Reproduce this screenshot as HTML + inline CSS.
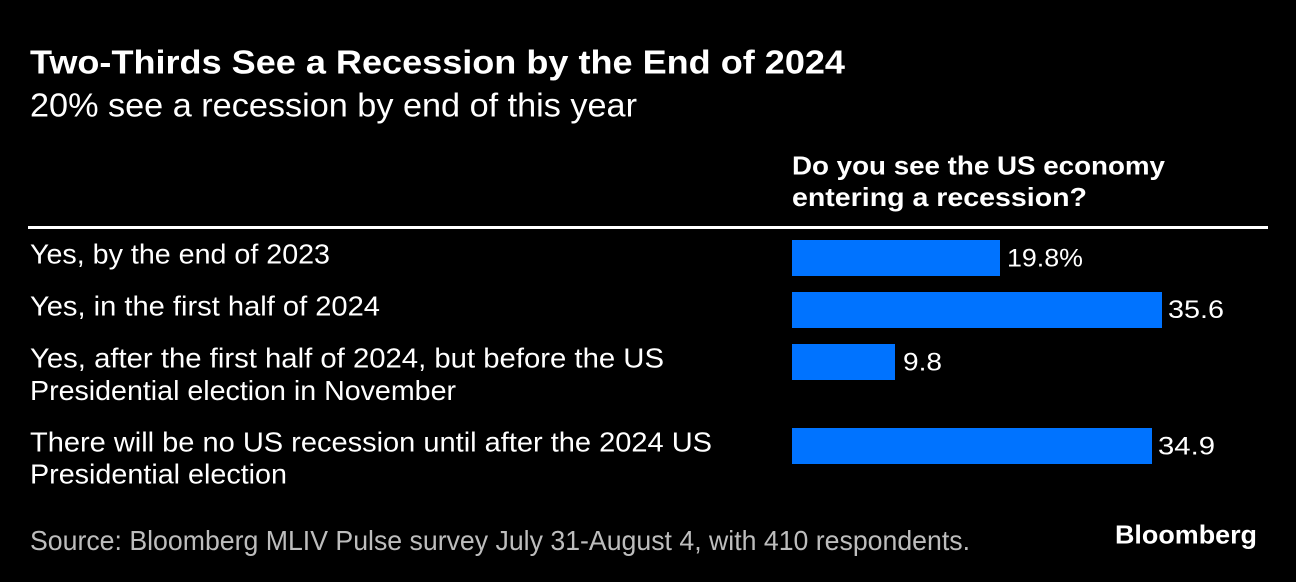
<!DOCTYPE html>
<html>
<head>
<meta charset="utf-8">
<style>
  html, body { margin: 0; padding: 0; background: #000; }
  body { width: 1296px; height: 582px; overflow: hidden; }
  svg { display: block; }
  text { font-family: "Liberation Sans", Arial, sans-serif; }
</style>
</head>
<body>
<svg width="1296" height="582" viewBox="0 0 1296 582" xmlns="http://www.w3.org/2000/svg">
  <rect x="0" y="0" width="1296" height="582" fill="#000"/>

  <!-- Title & subtitle -->
  <text x="30" y="73.5" fill="#fff" font-size="33" font-weight="bold" textLength="815" lengthAdjust="spacingAndGlyphs">Two-Thirds See a Recession by the End of 2024</text>
  <text x="30" y="116.5" fill="#fff" font-size="33" textLength="607" lengthAdjust="spacingAndGlyphs">20% see a recession by end of this year</text>

  <!-- Column header -->
  <text x="792" y="174.5" fill="#fff" font-size="26" font-weight="bold" textLength="373" lengthAdjust="spacingAndGlyphs">Do you see the US economy</text>
  <text x="792" y="206" fill="#fff" font-size="26" font-weight="bold" textLength="295" lengthAdjust="spacingAndGlyphs">entering a recession?</text>

  <!-- Rule -->
  <rect x="28" y="226" width="1240" height="3" fill="#fff"/>

  <!-- Row labels -->
  <text x="30" y="263.3" fill="#fff" font-size="28" textLength="300" lengthAdjust="spacingAndGlyphs">Yes, by the end of 2023</text>
  <text x="30" y="315.3" fill="#fff" font-size="28" textLength="350" lengthAdjust="spacingAndGlyphs">Yes, in the first half of 2024</text>
  <text x="30" y="367.3" fill="#fff" font-size="28" textLength="634" lengthAdjust="spacingAndGlyphs">Yes, after the first half of 2024, but before the US</text>
  <text x="30" y="400" fill="#fff" font-size="28" textLength="426" lengthAdjust="spacingAndGlyphs">Presidential election in November</text>
  <text x="30" y="451.7" fill="#fff" font-size="28" textLength="682" lengthAdjust="spacingAndGlyphs">There will be no US recession until after the 2024 US</text>
  <text x="30" y="483.5" fill="#fff" font-size="28" textLength="257" lengthAdjust="spacingAndGlyphs">Presidential election</text>

  <!-- Bars -->
  <rect x="792" y="240" width="208" height="36" fill="#0073ff"/>
  <rect x="792" y="292" width="370" height="36" fill="#0073ff"/>
  <rect x="792" y="344" width="103" height="36" fill="#0073ff"/>
  <rect x="792" y="428" width="360" height="36" fill="#0073ff"/>

  <!-- Values -->
  <text x="1007" y="266.7" fill="#fff" font-size="25" textLength="76" lengthAdjust="spacingAndGlyphs">19.8%</text>
  <text x="1168" y="318" fill="#fff" font-size="25" textLength="56" lengthAdjust="spacingAndGlyphs">35.6</text>
  <text x="903" y="370.7" fill="#fff" font-size="25" textLength="39" lengthAdjust="spacingAndGlyphs">9.8</text>
  <text x="1158" y="454.7" fill="#fff" font-size="25" textLength="57" lengthAdjust="spacingAndGlyphs">34.9</text>

  <!-- Footer -->
  <text x="30" y="550" fill="#bdbdbd" font-size="28" textLength="940" lengthAdjust="spacingAndGlyphs">Source: Bloomberg MLIV Pulse survey July 31-August 4, with 410 respondents.</text>
  <text x="1115" y="543.5" fill="#fff" font-size="26" font-weight="bold" textLength="142" lengthAdjust="spacingAndGlyphs">Bloomberg</text>
</svg>
</body>
</html>
